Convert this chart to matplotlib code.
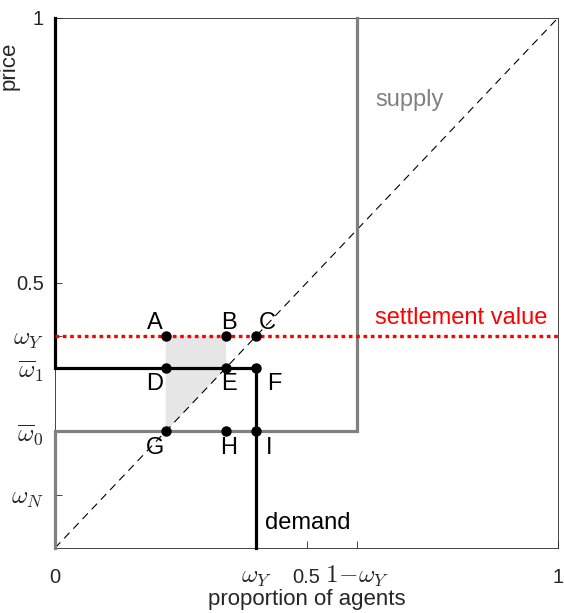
import numpy as np
import matplotlib.pyplot as plt

plt.rcParams['font.family'] = ['Liberation Sans', 'DejaVu Sans']
plt.rcParams['mathtext.fontset'] = 'cm'

# market levels
omega_Y = 0.4
omega_bar1 = 0.34
omega_bar0 = 0.22
omega_N = 0.1

# step curves
supply_x = [0, 0, 0.6, 0.6]
supply_y = [0, 0.22, 0.22, 1]
demand_x = [0, 0, 0.4, 0.4]
demand_y = [1, 0.34, 0.34, 0]

# marked points
point_names = ['A', 'B', 'C', 'D', 'E', 'F', 'G', 'H', 'I']
point_x = [0.22, 0.34, 0.4, 0.22, 0.34, 0.4, 0.22, 0.34, 0.4]
point_y = [0.4, 0.4, 0.4, 0.34, 0.34, 0.34, 0.22, 0.22, 0.22]

# shaded area A-B-E-G
shade_x = [0.22, 0.34, 0.34, 0.22]
shade_y = [0.4, 0.4, 0.34, 0.22]

xticks = [0, 0.4, 0.5, 0.6, 1]
xtick_labels = ['0', r'$\omega_Y$', '0.5', r'$1\!-\!\omega_Y$', '1']
yticks = [0.1, 0.22, 0.34, 0.4, 0.5, 1]
ytick_labels = [r'$\omega_N$', r'$\overline{\omega}_0$', r'$\overline{\omega}_1$',
                r'$\omega_Y$', '0.5', '1']

fig = plt.figure(figsize=(5.64, 6.13), dpi=100)
ax = fig.add_axes([0.0975, 0.106, 0.892, 0.865])

ax.fill(shade_x, shade_y, color='#e6e6e6', lw=0, zorder=1)
ax.plot([0, 1], [0, 1], color='black', lw=0.8, dashes=(7, 5), zorder=2)
ax.plot(supply_x, supply_y, color='#808080', lw=2.3, clip_on=False, zorder=3,
        solid_joinstyle='miter')
ax.plot(demand_x, demand_y, color='black', lw=2.3, clip_on=False, zorder=4,
        solid_joinstyle='miter')
ax.plot([0, 1], [omega_Y, omega_Y], color='red', lw=2.4, dashes=(1.1, 1.1),
        clip_on=False, zorder=5)
ax.plot(point_x, point_y, 'o', color='black', ms=6.5, zorder=6)

# letter offsets (points) relative to each marker
offsets = {'A': (-8, 9), 'B': (2, 9), 'C': (8, 9),
           'D': (-8, -12), 'E': (2, -12), 'F': (13, -12),
           'G': (-8, -12), 'H': (2, -12), 'I': (9, -12)}
for name, px, py in zip(point_names, point_x, point_y):
    ax.annotate(name, (px, py), xytext=offsets[name], textcoords='offset points',
                ha='center', va='center', fontsize=17)

ax.text(0.636, 0.845, 'supply', color='#808080', fontsize=17, va='center')
ax.text(0.636, 0.434, 'settlement value', color='red', fontsize=17, va='center')
ax.text(0.417, 0.047, 'demand', color='black', fontsize=17, va='center')

ax.set_xlim(0, 1)
ax.set_ylim(0, 1)
ax.set_xticks(xticks)
ax.set_xticklabels(xtick_labels)
ax.set_yticks(yticks)
ax.set_yticklabels(ytick_labels)
ax.tick_params(direction='in', length=5, width=0.6, colors='#262626',
               labelsize=14.5)
ax.tick_params(axis='x', pad=25)
ax.tick_params(axis='y', pad=8)
# line the x labels up on a common baseline
for lab in ax.get_xticklabels():
    lab.set_verticalalignment('baseline')
# math labels render smaller, so give them a bigger size
for lab in ax.get_xticklabels() + ax.get_yticklabels():
    if '$' in lab.get_text():
        lab.set_fontsize(18)
for s in ax.spines.values():
    s.set_color('#262626')
    s.set_linewidth(0.6)

ax.set_xlabel('proportion of agents', fontsize=16, color='#262626')
ax.xaxis.set_label_coords(0.5, -0.077)
ax.set_ylabel('price', fontsize=16, color='#262626', labelpad=4)
ax.yaxis.set_label_coords(-0.07, 0.91)

fig.savefig('out.png', dpi=100)
